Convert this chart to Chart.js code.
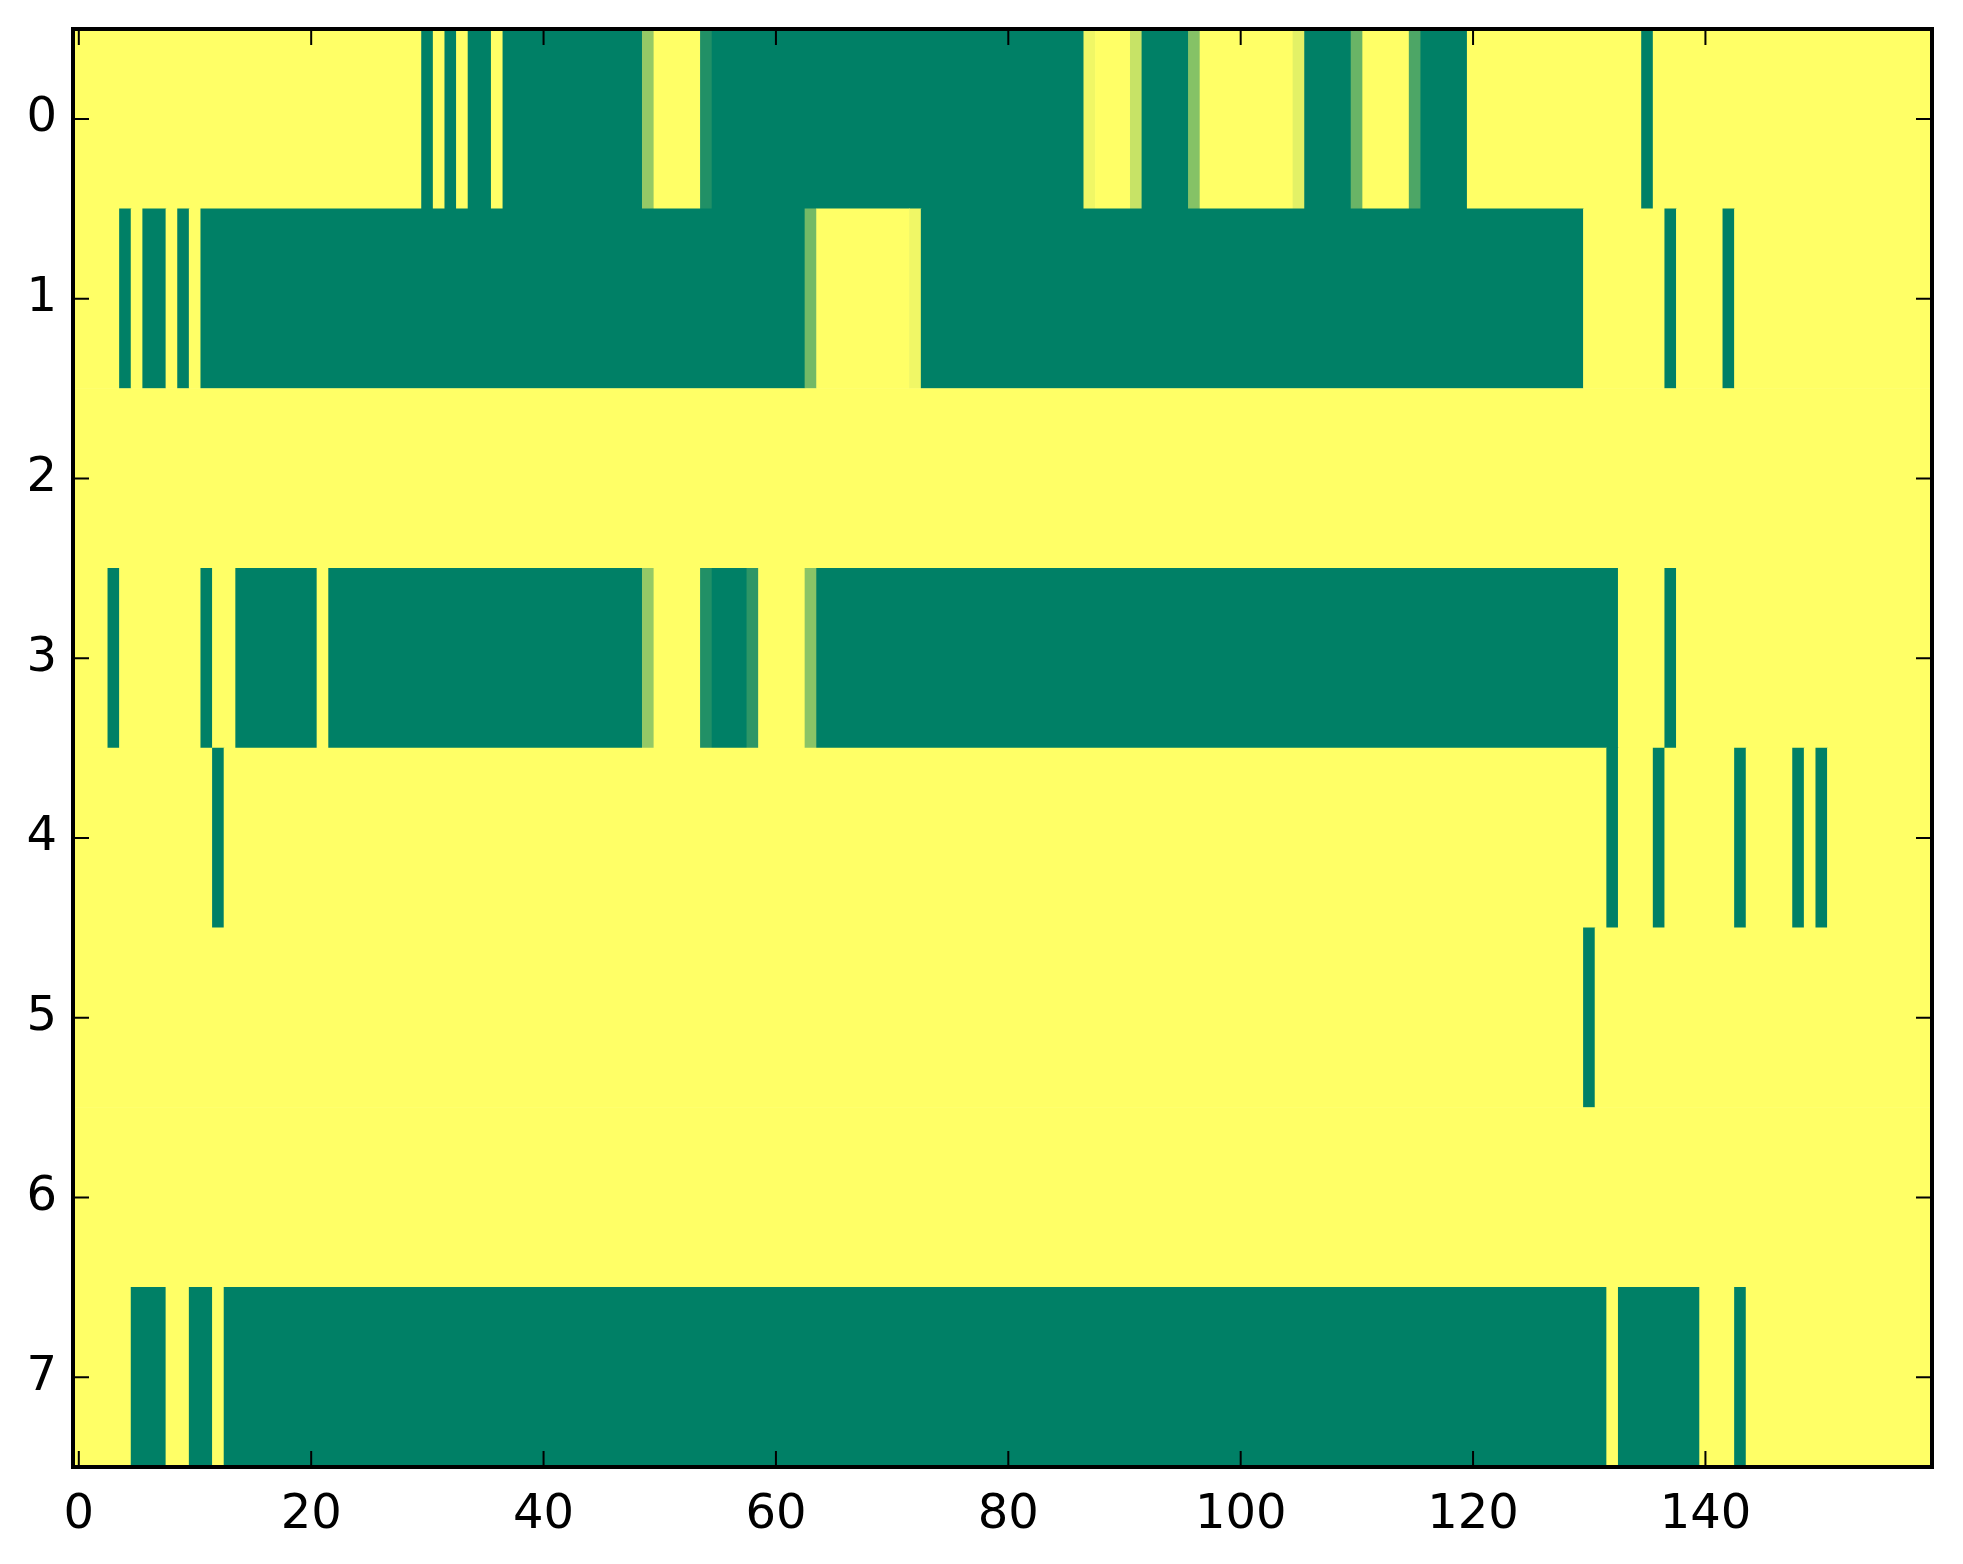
<!DOCTYPE html>
<html>
<head>
<meta charset="utf-8">
<script src="https://cdn.jsdelivr.net/npm/chart.js@4.4.1/dist/chart.umd.min.js"></script>
<style>
  body { margin: 0; background: #fff; }
  canvas { display: block; }
</style>
</head>
<body>
<canvas id="heatmap" width="1963" height="1564" style="width:1963px;height:1564px"></canvas>
<script>
// rows of the image, top to bottom
var rowLabels = ['0', '1', '2', '3', '4', '5', '6', '7'];
var xTicks = [0, 20, 40, 60, 80, 100, 120, 140];
var nCols = 160;

// each row is run-length coded: value, count, value, count ...
// 1 = yellow end of the colormap, 0 = dark green end
var row0 = [1, 30, 0, 1, 1, 1, 0, 1, 1, 1, 0, 2, 1, 1, 0, 12, 0.58, 1, 1, 4, 0.13, 1,
            0, 32, 0.94, 1, 1, 3, 0.78, 1, 0, 4, 0.52, 1, 1, 8, 0.89, 1, 0, 4, 0.41, 1,
            1, 4, 0.3, 1, 0, 4, 1, 15, 0, 1, 1, 24];
var row1 = [1, 4, 0, 1, 1, 1, 0, 2, 1, 1, 0, 1, 1, 1, 0, 52, 0.45, 1, 1, 8, 0.94, 1,
            0, 57, 1, 7, 0, 1, 1, 4, 0, 1, 1, 17];
var row2 = [1, 160];
var row3 = [1, 3, 0, 1, 1, 7, 0, 1, 1, 2, 0, 7, 1, 1, 0, 27, 0.58, 1, 1, 4, 0.13, 1,
            0, 3, 0.18, 1, 1, 4, 0.54, 1, 0, 69, 1, 4, 0, 1, 1, 22];
var row4 = [1, 12, 0, 1, 1, 119, 0, 1, 1, 3, 0, 1, 1, 6, 0, 1, 1, 4, 0, 1, 1, 1, 0, 1, 1, 9];
var row5 = [1, 130, 0, 1, 1, 29];
var row6 = [1, 160];
var row7 = [1, 5, 0, 3, 1, 2, 0, 2, 1, 1, 0, 119, 1, 1, 0, 7, 1, 3, 0, 1, 1, 16];
var rows = [row0, row1, row2, row3, row4, row5, row6, row7];

// matplotlib 'summer' colormap
function summer(v) {
    var r = Math.round(255 * v);
    var g = Math.round(127.5 + 127.5 * v);
    return 'rgb(' + r + ',' + g + ',102)';
}

var cells = [];
rows.forEach(function(runs, r) {
    var col = 0;
    for (var i = 0; i < runs.length; i += 2) {
        cells.push({ x: [col - 0.5, col + runs[i + 1] - 0.5], y: rowLabels[r], v: runs[i] });
        col += runs[i + 1];
    }
});

var tickFont = { family: 'DejaVu Sans', size: 48 };

// inward ticks on all four sides plus the black frame
var framePlugin = {
    id: 'frame',
    afterDraw: function(chart) {
        var ctx = chart.ctx, a = chart.chartArea;
        var xs = chart.scales.x, ys = chart.scales.y;
        var len = 16;
        ctx.save();
        ctx.strokeStyle = '#000';
        ctx.lineWidth = 2;
        ctx.beginPath();
        xTicks.forEach(function(v) {
            var px = xs.getPixelForValue(v);
            ctx.moveTo(px, a.bottom); ctx.lineTo(px, a.bottom - len);
            ctx.moveTo(px, a.top); ctx.lineTo(px, a.top + len);
        });
        rowLabels.forEach(function(l, i) {
            var py = ys.getPixelForValue(i);
            ctx.moveTo(a.left, py); ctx.lineTo(a.left + len, py);
            ctx.moveTo(a.right, py); ctx.lineTo(a.right - len, py);
        });
        ctx.stroke();
        ctx.lineWidth = 4;
        ctx.strokeRect(a.left, a.top, a.right - a.left, a.bottom - a.top);
        ctx.restore();
    }
};

var ctx = document.getElementById('heatmap').getContext('2d');
var heatmap = new Chart(ctx, {
    type: 'bar',
    data: {
        labels: rowLabels,
        datasets: [{
            data: cells,
            backgroundColor: function(c) { return summer(c.raw.v); },
            borderWidth: 0,
            barPercentage: 1,
            categoryPercentage: 1
        }]
    },
    options: {
        indexAxis: 'y',
        responsive: false,
        animation: false,
        layout: { padding: { top: 29, right: 31, left: 0, bottom: 0 } },
        plugins: { legend: { display: false }, tooltip: { enabled: false } },
        scales: {
            x: {
                type: 'linear',
                min: -0.5,
                max: nCols - 0.5,
                grid: { display: false, drawTicks: false },
                border: { display: false },
                afterBuildTicks: function(s) { s.ticks = xTicks.map(function(v) { return { value: v }; }); },
                afterFit: function(s) { s.height = 97; s.paddingLeft = 0; s.paddingRight = 0; },
                ticks: { font: tickFont, color: '#000', padding: 20, maxRotation: 0, autoSkip: false }
            },
            y: {
                type: 'category',
                grid: { display: false, drawTicks: false },
                border: { display: false },
                afterFit: function(s) { s.width = 73; s.paddingTop = 0; s.paddingBottom = 0; },
                ticks: { font: tickFont, color: '#000', padding: 16 }
            }
        }
    },
    plugins: [framePlugin]
});
</script>
</body>
</html>
